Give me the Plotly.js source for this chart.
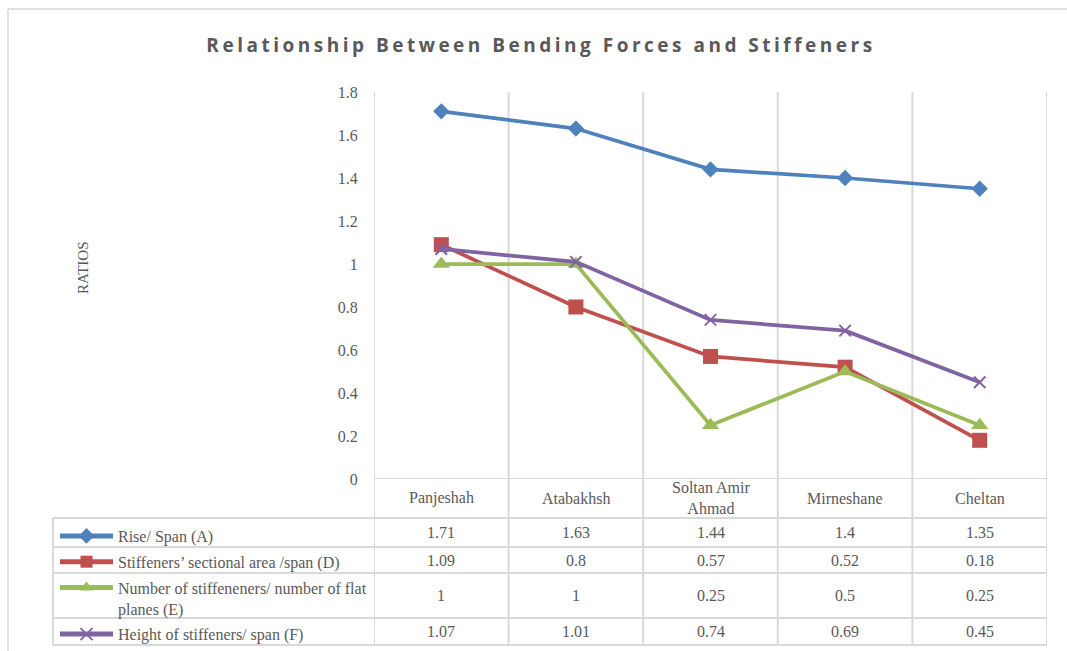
<!DOCTYPE html>
<html>
<head>
<meta charset="utf-8">
<script src="https://cdn.plot.ly/plotly-3.0.1.min.js"></script>
<style>
html, body { margin: 0; padding: 0; background: #fff; }
#chart { width: 1067px; height: 651px; }
.gtitle { letter-spacing: 3.5px; }
</style>
</head>
<body>
<div id="chart"></div>
<script>
// ---- data ----
var categories = ["Panjeshah", "Atabakhsh", "Soltan Amir Ahmad", "Mirneshane", "Cheltan"];
var categoryLabels = ["Panjeshah", "Atabakhsh", "Soltan Amir<br>Ahmad", "Mirneshane", "Cheltan"];
var riseSpan = [1.71, 1.63, 1.44, 1.4, 1.35];
var sectionalArea = [1.09, 0.8, 0.57, 0.52, 0.18];
var numStiffeners = [1, 1, 0.25, 0.5, 0.25];
var heightStiffeners = [1.07, 1.01, 0.74, 0.69, 0.45];
var seriesNames = [
  "Rise/ Span (A)",
  "Stiffeners’ sectional area /span (D)",
  "Number of stiffeneners/ number of flat<br>planes (E)",
  "Height of stiffeners/ span (F)"
];
var yTicks = [0, 0.2, 0.4, 0.6, 0.8, 1, 1.2, 1.4, 1.6, 1.8];

// ---- geometry helpers (pixel -> paper) ----
var W = 1067, H = 651;
var L = 374, R = 1047, T = 92, B = 479;
function px(p) { return (p - L) / (R - L); }
function py(p) { return (B - p) / (B - T); }

var grey = "#595959";
var gridC = "#D9D9D9";
var serif = "Liberation Serif";
var fs = 16;

var series = [riseSpan, sectionalArea, numStiffeners, heightStiffeners];
var colors = ["#4F81BD", "#C0504D", "#9BBB59", "#8064A2"];
var symbols = ["diamond", "square", "triangle-up", "x-thin"];
var sizes = [12.5, 15, 15, 11.5];

var traces = series.map(function (vals, i) {
  var m = { symbol: symbols[i], size: sizes[i], color: colors[i] };
  if (symbols[i] === "x-thin") m.line = { color: colors[i], width: 2 };
  return {
    type: "scatter",
    mode: "lines+markers",
    x: categories,
    y: vals,
    name: seriesNames[i],
    legendgroup: "g" + i,
    line: { color: colors[i], width: 3.75 },
    marker: m,
    cliponaxis: false
  };
});

// ---- table shapes ----
var shapes = [];
var rowLines = [518, 547, 573, 618, 645];
var nCat = categories.length;
for (var k = 0; k <= nCat; k++) {
  shapes.push({ type: "line", xref: "x", yref: "paper", x0: k - 0.5, x1: k - 0.5,
    y0: py(645), y1: 1, line: { color: gridC, width: 2 }, layer: "below" });
}
shapes.push({ type: "line", xref: "x", yref: "y", x0: -0.5, x1: nCat - 0.5, y0: 0, y1: 0,
  line: { color: gridC, width: 2 }, layer: "below" });
rowLines.forEach(function (p) {
  shapes.push({ type: "line", xref: "paper", yref: "paper", x0: px(53), x1: 1,
    y0: py(p), y1: py(p), line: { color: gridC, width: 2 }, layer: "below" });
});
shapes.push({ type: "line", xref: "paper", yref: "paper", x0: px(53), x1: px(53),
  y0: py(518), y1: py(645), line: { color: gridC, width: 2 }, layer: "below" });
shapes.push({ type: "line", xref: "paper", yref: "paper", x0: px(8), x1: px(1070),
  y0: py(9), y1: py(9), line: { color: gridC, width: 1.5 } });
shapes.push({ type: "line", xref: "paper", yref: "paper", x0: px(8), x1: px(8),
  y0: py(9), y1: py(660), line: { color: gridC, width: 1.5 } });

// ---- table annotations ----
var annotations = [];
categoryLabels.forEach(function (c, i) {
  annotations.push({ xref: "x", yref: "paper", x: i, y: py(498), text: c, showarrow: false,
    font: { family: serif, size: fs, color: grey }, yanchor: "middle", xanchor: "center" });
});
var rowCenters = [532.5, 560, 595.5, 631.5];
series.forEach(function (vals, s) {
  vals.forEach(function (v, i) {
    annotations.push({ xref: "x", yref: "paper", x: i, y: py(rowCenters[s]), text: String(v),
      showarrow: false, font: { family: serif, size: fs, color: grey },
      yanchor: "middle", xanchor: "center" });
  });
});
annotations.push({ xref: "paper", yref: "paper", x: px(83), y: py(268), text: "RATIOS",
  textangle: -90, showarrow: false, font: { family: serif, size: 15, color: grey },
  xanchor: "center", yanchor: "middle" });

var layout = {
  width: W, height: H,
  margin: { l: L, r: W - R, t: T, b: H - B, autoexpand: false },
  paper_bgcolor: "#fff", plot_bgcolor: "rgba(0,0,0,0)",
  title: { text: "<b>Relationship Between Bending Forces and Stiffeners</b>",
    x: 0.507, xanchor: "center", y: 1 - 45 / H, yanchor: "middle", yref: "container",
    font: { family: "Open Sans", size: 19, color: grey } },
  xaxis: { type: "category", categoryarray: categories, range: [-0.5, nCat - 0.5],
    showticklabels: false, showgrid: false, zeroline: false, showline: false, ticks: "" },
  yaxis: { range: [0, 1.8], tickvals: yTicks, ticktext: yTicks.map(String),
    showgrid: false, zeroline: false, showline: false,
    ticks: "outside", ticklen: 12, tickcolor: "rgba(0,0,0,0)",
    tickfont: { family: serif, size: fs, color: grey } },
  showlegend: true,
  legend: { x: px(55), y: py(519), xanchor: "left", yanchor: "top", valign: "top",
    bgcolor: "rgba(0,0,0,0)", font: { family: serif, size: fs, color: grey },
    tracegroupgap: 2, itemwidth: 53, itemsizing: "constant" },
  shapes: shapes,
  annotations: annotations
};

Plotly.newPlot("chart", traces, layout, { displayModeBar: false, staticPlot: true });
</script>
</body>
</html>
